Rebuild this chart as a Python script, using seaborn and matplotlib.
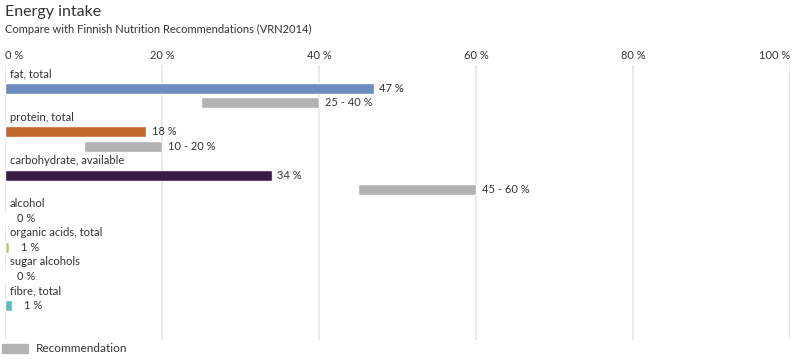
import matplotlib
matplotlib.use("Agg")
import matplotlib.pyplot as plt
import pandas as pd
import seaborn as sns

# ------------------------------------------------------------------
# Data
# ------------------------------------------------------------------
categories = ["fat, total", "protein, total", "carbohydrate, available",
              "alcohol", "organic acids, total", "sugar alcohols", "fibre, total"]
intake = [47, 18, 34, 0, 0.5, 0, 0.9]
rec_low = [25, 10, 45, None, None, None, None]
rec_high = [40, 20, 60, None, None, None, None]
colors = ["#6a8cbf", "#c0692e", "#3b1a45", "#6a8cbf", "#b8c47c", "#6a8cbf", "#5fbcbc"]
ticks = [0, 20, 40, 60, 80, 100]

TEXT = "#333333"
REC = "#b3b3b3"

sns.set_theme(style="white")
plt.rcParams["font.family"] = ["Lato", "DejaVu Sans"]

# one row slot for the name, one for the bar, one for the recommendation
slots, label_pos, bar_pos, rec_pos = [], [], [], []
for cat, lo in zip(categories, rec_low):
    label_pos.append(len(slots)); slots.append(cat + "|name")
    bar_pos.append(len(slots)); slots.append(cat + "|bar")
    if lo is not None:
        rec_pos.append(len(slots)); slots.append(cat + "|rec")
    else:
        rec_pos.append(None)

df = pd.DataFrame({
    "slot": [c + "|bar" for c in categories],
    "value": intake,
    "category": categories,
})

fig = plt.figure(figsize=(8, 3.6), dpi=100)
ax = fig.add_axes([5 / 800, 1 - 340 / 360, 785 / 800, 275 / 360])

sns.barplot(data=df, x="value", y="slot", hue="category", order=slots,
            palette=dict(zip(categories, colors)), orient="h", width=0.76,
            dodge=False, legend=False, saturation=1, ax=ax)

for lo, hi, pos in zip(rec_low, rec_high, rec_pos):
    if lo is None:
        continue
    ax.barh(pos, hi - lo, left=lo, height=0.76, color=REC)
    ax.annotate(f"{lo} - {hi} %", xy=(hi, pos), xytext=(4.5, 0),
                textcoords="offset points", va="center", fontsize=8, color=TEXT)

for cat, v, lp, bp in zip(categories, intake, label_pos, bar_pos):
    ax.annotate(cat, xy=(0, lp), xytext=(3.5, 0), textcoords="offset points",
                va="center", fontsize=8.1, color=TEXT)
    off = 3.8 if v >= 2 else 8.6
    ax.annotate(f"{int(v + 0.5)} %", xy=(v, bp), xytext=(off, 0),
                textcoords="offset points", va="center", fontsize=8, color=TEXT)

ax.set_xlim(0, 100)
ax.set_ylim(len(slots) + 1.4, -0.6)
ax.set_yticks([])
ax.set_ylabel("")
ax.set_xlabel("")
ax.xaxis.tick_top()
ax.set_xticks(ticks)
ax.set_xticklabels([f"{t} %" for t in ticks], fontsize=8, color=TEXT)
tl = ax.get_xticklabels()
tl[0].set_horizontalalignment("left")
tl[-1].set_horizontalalignment("right")
ax.tick_params(axis="x", length=0, pad=3)
ax.grid(axis="x", color="#e9e9e9", linewidth=1.5)
ax.set_axisbelow(True)
for s in ax.spines.values():
    s.set_visible(False)

fig.text(5 / 800, 1 - 12 / 360, "Energy intake", fontsize=11.5, color=TEXT, va="center")
fig.text(5 / 800, 1 - 29 / 360, "Compare with Finnish Nutrition Recommendations (VRN2014)",
         fontsize=8.05, color=TEXT, va="center")

handle = plt.Rectangle((0, 0), 1, 1, color=REC)
fig.legend([handle], ["Recommendation"], loc="center left",
           bbox_to_anchor=(0, 1 - 349 / 360), frameon=False, fontsize=8.5,
           handlelength=2.2, handleheight=0.9, handletextpad=0.6,
           borderaxespad=0, borderpad=0.2, labelcolor=TEXT)

fig.savefig("out.png", dpi=100)
